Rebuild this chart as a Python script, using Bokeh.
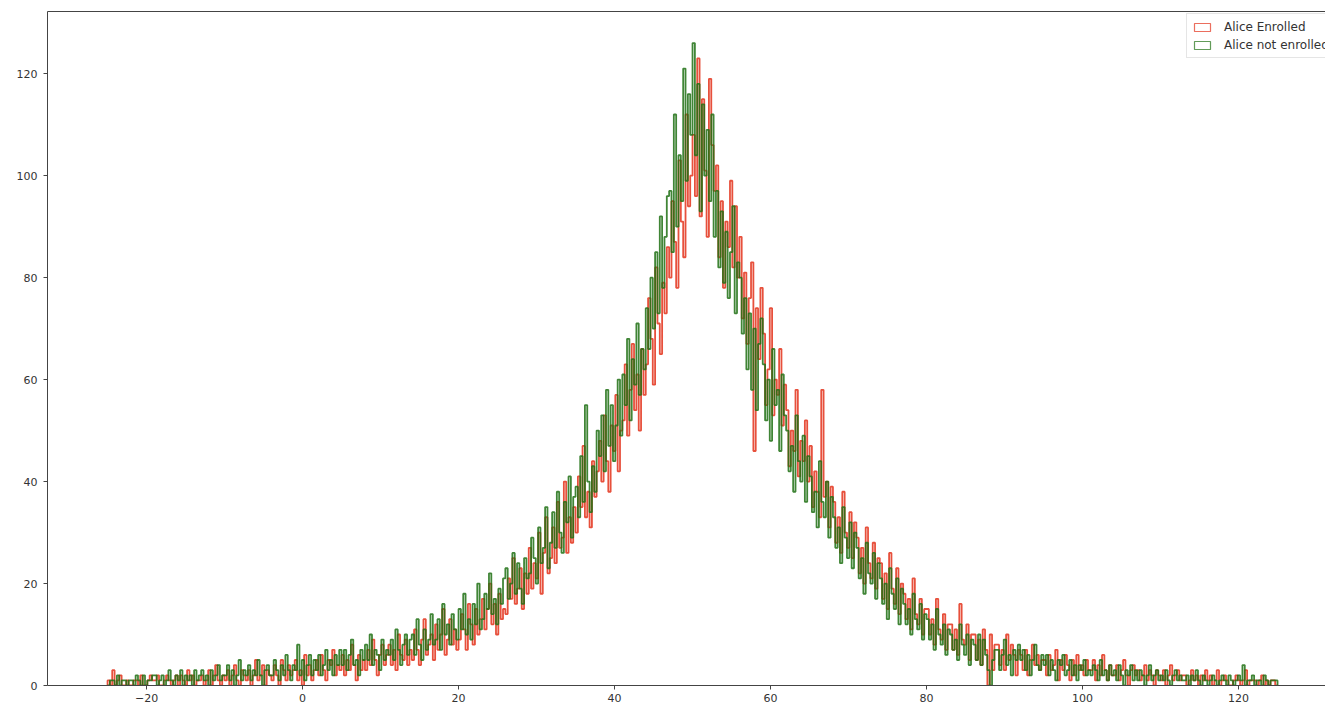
import numpy as np
from bokeh.plotting import figure
from bokeh.models import Range1d, LinearAxis, Legend, LegendItem, FixedTicker
from bokeh.embed import file_html
from bokeh.resources import INLINE

# ---- data (histogram counts, 500 bins of width 0.3 from -25 to 125) ----
bin_start = -25.0
bin_width = 0.3

enrolled = [
    1, 0, 3, 0, 1, 2, 0, 0, 1, 0,
    0, 1, 1, 0, 2, 0, 0, 1, 2, 1,
    1, 2, 0, 0, 1, 2, 1, 0, 1, 2,
    0, 2, 1, 0, 3, 1, 2, 0, 1, 1,
    2, 0, 1, 3, 0, 2, 4, 1, 0, 2,
    1, 3, 0, 2, 4, 1, 0, 3, 2, 1,
    3, 0, 2, 5, 1, 2, 4, 0, 3, 2,
    1, 4, 2, 0, 5, 3, 1, 4, 2, 3,
    5, 1, 3, 0, 6, 2, 4, 1, 3, 5,
    2, 6, 3, 1, 5, 4, 7, 2, 4, 3,
    6, 2, 5, 3, 8, 4, 1, 6, 3, 5,
    3, 7, 4, 9, 5, 2, 6, 8, 4, 6,
    8, 4, 7, 3, 10, 6, 5, 9, 4, 7,
    5, 11, 7, 4, 9, 13, 6, 8, 10, 5,
    12, 7, 10, 15, 6, 9, 13, 8, 11, 7,
    9, 14, 11, 7, 16, 12, 8, 15, 10, 13,
    17, 11, 15, 20, 12, 16, 10, 18, 13, 15,
    14, 21, 17, 25, 16, 19, 23, 15, 22, 18,
    27, 19, 24, 21, 30, 18, 26, 33, 22, 25,
    31, 24, 36, 27, 29, 40, 26, 33, 28, 35,
    30, 41, 35, 47, 33, 38, 31, 44, 37, 42,
    48, 40, 53, 44, 38, 51, 46, 57, 42, 50,
    52, 63, 49, 58, 67, 54, 61, 50, 66, 57,
    63, 76, 68, 59, 82, 71, 65, 79, 73, 86,
    80, 95, 87, 78, 103, 91, 84, 112, 94, 100,
    108, 96, 123, 92, 115, 101, 88, 119, 106, 97,
    102, 84, 95, 78, 91, 86, 99, 82, 94, 80,
    88, 72, 81, 67, 76, 83, 46, 74, 64, 78,
    69, 55, 62, 74, 53, 60, 57, 66, 51, 59,
    54, 43, 50, 46, 58, 41, 48, 44, 52, 40,
    47, 35, 42, 38, 33, 58, 37, 40, 31, 39,
    36, 28, 33, 26, 38, 30, 27, 34, 25, 32,
    29, 22, 27, 20, 31, 24, 21, 28, 19, 25,
    24, 17, 22, 15, 26, 19, 16, 23, 14, 20,
    18, 13, 17, 11, 21, 14, 12, 17, 10, 15,
    15, 10, 13, 8, 17, 11, 9, 14, 7, 12,
    12, 7, 11, 6, 16, 9, 8, 12, 5, 10,
    10, 5, 9, 4, 11, 7, 0, 10, 3, 8,
    8, 4, 7, 3, 10, 5, 8, 6, 2, 7,
    6, 3, 7, 2, 5, 8, 4, 6, 3, 5,
    5, 2, 6, 3, 4, 7, 1, 5, 3, 6,
    4, 1, 5, 2, 6, 3, 4, 2, 5, 3,
    3, 5, 1, 4, 2, 6, 3, 1, 4, 2,
    2, 4, 1, 3, 5, 2, 0, 3, 4, 2,
    3, 1, 2, 4, 1, 3, 2, 0, 3, 2,
    1, 3, 0, 2, 4, 1, 2, 3, 1, 2,
    2, 0, 1, 3, 1, 2, 0, 2, 1, 3,
    1, 2, 0, 1, 3, 0, 1, 2, 1, 0,
    0, 1, 2, 1, 0, 1, 3, 0, 1, 1,
    1, 0, 1, 2, 0, 1, 0, 1, 1, 0,
]

not_enrolled = [
    0, 1, 1, 0, 2, 0, 1, 1, 0, 1,
    1, 0, 2, 1, 0, 2, 0, 1, 1, 2,
    2, 0, 1, 2, 0, 1, 3, 1, 0, 2,
    1, 3, 0, 2, 1, 2, 0, 3, 1, 2,
    3, 1, 2, 0, 3, 1, 2, 4, 1, 2,
    2, 4, 1, 3, 0, 2, 5, 1, 3, 2,
    4, 1, 3, 2, 5, 2, 0, 3, 4, 2,
    2, 5, 3, 1, 4, 2, 6, 3, 1, 4,
    3, 8, 2, 5, 1, 4, 6, 2, 5, 3,
    6, 2, 4, 7, 3, 5, 2, 6, 4, 7,
    4, 7, 3, 6, 9, 4, 5, 2, 7, 5,
    8, 5, 10, 4, 7, 6, 3, 9, 5, 7,
    6, 9, 5, 11, 7, 4, 8, 10, 6, 9,
    10, 6, 13, 8, 5, 11, 7, 9, 14, 8,
    9, 13, 7, 16, 10, 12, 8, 14, 11, 9,
    15, 11, 18, 10, 13, 9, 16, 12, 20, 11,
    13, 18, 15, 22, 14, 17, 12, 19, 16, 21,
    23, 17, 20, 26, 18, 24, 19, 16, 25, 21,
    22, 29, 25, 20, 31, 24, 27, 35, 23, 28,
    34, 27, 38, 30, 26, 36, 32, 41, 29, 37,
    39, 33, 45, 36, 55, 40, 34, 43, 38, 50,
    45, 53, 42, 58, 47, 55, 44, 51, 60, 49,
    61, 55, 68, 52, 64, 59, 71, 57, 66, 62,
    74, 66, 80, 70, 85, 73, 92, 78, 88, 96,
    97, 85, 112, 90, 104, 95, 121, 99, 116, 108,
    126, 104, 118, 93, 114, 100, 109, 95, 112, 88,
    97, 82, 93, 79, 89, 76, 85, 94, 73, 83,
    80, 69, 76, 62, 73, 58, 70, 54, 67, 72,
    63, 52, 60, 48, 66, 55, 58, 46, 61, 53,
    50, 42, 47, 38, 53, 44, 40, 49, 36, 45,
    41, 34, 38, 31, 44, 36, 33, 40, 29, 37,
    33, 27, 31, 24, 35, 29, 25, 32, 23, 30,
    27, 21, 25, 18, 28, 22, 20, 26, 17, 24,
    21, 16, 20, 13, 23, 18, 15, 21, 12, 19,
    16, 12, 15, 10, 18, 13, 11, 16, 9, 14,
    13, 9, 12, 7, 15, 10, 8, 12, 6, 11,
    10, 7, 9, 5, 12, 8, 6, 10, 4, 9,
    8, 5, 10, 4, 9, 6, 3, 0, 5, 7,
    7, 3, 6, 9, 4, 6, 2, 7, 5, 8,
    5, 7, 3, 6, 2, 5, 8, 4, 3, 6,
    4, 6, 2, 5, 3, 1, 5, 4, 6, 2,
    3, 5, 2, 4, 1, 4, 3, 5, 2, 3,
    2, 4, 3, 1, 5, 2, 3, 1, 4, 2,
    3, 1, 4, 2, 0, 3, 2, 4, 1, 3,
    1, 3, 2, 0, 2, 4, 1, 2, 3, 1,
    2, 1, 3, 1, 0, 2, 3, 1, 2, 1,
    1, 2, 0, 2, 1, 3, 1, 0, 2, 1,
    0, 1, 2, 1, 0, 1, 2, 1, 0, 2,
    1, 0, 1, 2, 1, 4, 0, 1, 1, 2,
    0, 1, 1, 0, 2, 1, 0, 1, 1, 1,
]

series_labels = ["Alice Enrolled", "Alice not enrolled"]
x_ticks = [-20, 0, 20, 40, 60, 80, 100, 120]
y_ticks = [0, 20, 40, 60, 80, 100, 120]

assert len(enrolled) == 500 and len(not_enrolled) == 500

RED = "#e3311a"
GREEN = "#1f7013"
ALPHA = 0.85
AXIS_COLOR = "#444444"
TEXT_COLOR = "#333333"
FONT = "DejaVu Sans"

edges = bin_start + bin_width * np.arange(len(enrolled) + 1)


def outline(counts):
    xs = np.repeat(edges, 2)
    ys = np.concatenate([[0], np.repeat(np.asarray(counts, dtype=float), 2), [0]])
    return xs, ys


p = figure(
    width=1325, height=705,
    x_range=Range1d(-32.7, 131.15), y_range=Range1d(0, 132.2),
    output_backend="svg", toolbar_location=None,
    min_border_left=47, min_border_right=0, min_border_top=11, min_border_bottom=20,
)
p.xgrid.visible = False
p.ygrid.visible = False
p.outline_line_color = None
p.background_fill_color = "white"
p.border_fill_color = "white"

for ax in (p.xaxis[0], p.yaxis[0]):
    ax.axis_line_color = AXIS_COLOR
    ax.major_tick_line_color = AXIS_COLOR
    ax.major_tick_out = 4
    ax.major_tick_in = 0
    ax.minor_tick_out = 0
    ax.minor_tick_in = 0
    ax.major_label_text_font = FONT
    ax.major_label_text_font_size = "11px"
    ax.major_label_text_color = TEXT_COLOR

p.xaxis.ticker = FixedTicker(ticks=x_ticks)
p.yaxis.ticker = FixedTicker(ticks=y_ticks)
p.xaxis.major_label_standoff = 4
p.yaxis.major_label_standoff = 6
p.xaxis.major_label_overrides = {t: (("\u2212" + str(-t)) if t < 0 else str(t)) for t in x_ticks}

top_axis = LinearAxis(
    ticker=FixedTicker(ticks=[]),
    major_label_text_font_size="0px", major_label_standoff=0,
    major_tick_out=0, major_tick_in=0, minor_tick_out=0, minor_tick_in=0,
    axis_line_color=AXIS_COLOR,
)
p.add_layout(top_axis, "above")

xr, yr = outline(enrolled)
p.line(xr, yr, line_color=RED, line_alpha=ALPHA, line_width=1.8)
xg, yg = outline(not_enrolled)
p.line(xg, yg, line_color=GREEN, line_alpha=ALPHA, line_width=1.8)

# legend patches: hidden bar renderers of the same counts, shown as outlined rectangles
leg_r = p.quad(left=edges[:-1], right=edges[1:], top=enrolled, bottom=0, fill_alpha=0,
               line_color=RED, line_alpha=0.7, line_width=1.2, visible=False)
leg_g = p.quad(left=edges[:-1], right=edges[1:], top=not_enrolled, bottom=0, fill_alpha=0,
               line_color=GREEN, line_alpha=0.7, line_width=1.2, visible=False)

legend = Legend(
    items=[LegendItem(label=series_labels[0], renderers=[leg_r]),
           LegendItem(label=series_labels[1], renderers=[leg_g])],
    location=(1139, 627),
    label_text_font=FONT, label_text_font_size="12px", label_text_color=TEXT_COLOR,
    glyph_width=20, glyph_height=10, label_height=15, spacing=3, padding=5,
    margin=0, label_standoff=12,
    border_line_color="#cccccc", border_line_width=1,
    background_fill_color="white", background_fill_alpha=0.85,
    inactive_fill_alpha=0.0, click_policy="none",
)
p.add_layout(legend)

open("out.html", "w").write(file_html(p, INLINE))
